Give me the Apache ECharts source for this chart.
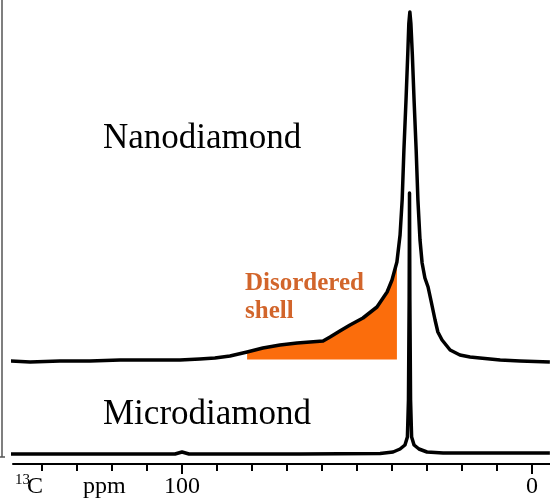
<!DOCTYPE html>
<html>
<head>
<meta charset="utf-8">
<script src="https://cdn.jsdelivr.net/npm/echarts@6/dist/echarts.min.js"></script>
<style>
html,body{margin:0;padding:0;background:#fff;}
#chart{width:550px;height:501px;}
</style>
</head>
<body>
<div id="chart"></div>
<script>
// 13C chemical shift (ppm) and intensity (arbitrary units, Nanodiamond trace offset upward)
const nanoPpm = [149.4,143.4,134.9,126.3,117.7,109.1,100.6,94.9,90.6,86.3,81.4,76.9,72.0,67.1,63.4,59.7,57.7,54.9,52.0,48.3,44.3,41.4,40.0,38.6,37.7,37.1,36.6,36.0,35.5,35.2,34.9,34.6,34.2,33.7,33.1,32.6,32.0,31.4,30.6,29.7,28.9,27.7,26.9,25.7,23.4,20.6,17.7,14.9,9.1,3.4,-5.1];
const nanoInt = [103,102,103,103,104,104,104,105,106,108,112,116,119,121,122,123,127,133,139,146,157,172,184,202,229,264,314,364,410,440,452,440,410,364,314,264,224,201,186,177,164,144,132,124,114,109,107,106,104,103,102];
const microPpm = [149.7,123.4,102.0,100.0,98.0,66.3,43.4,39.7,37.7,36.3,35.6,35.3,35.1,35.0,34.9,34.7,34.4,33.7,32.3,30.0,25.4,-5.1];
const microInt = [10,10,10,12,10,10,10.5,12,15,19,27,64,164,271,164,64,27,19,15,12,11,11];
// Disordered shell region (ppm range) and its baseline intensity
const shellFrom = 81.4;
const shellTo = 38.6;
const shellBase = 104.5;
// Axis ticks and labels (ppm)
const minorTicks = [140,130,120,110,100,90,80,70,60,50,40,30,20,10,0];
const majorTicks = [100,0];
const tickLabels = [100,0];

const nanoData = nanoPpm.map((p,i)=>[p,nanoInt[i]]);
const microData = microPpm.map((p,i)=>[p,microInt[i]]);
const shellData = nanoData.filter(d=>d[0] <= shellFrom + 1e-6 && d[0] >= shellTo - 1e-6);

const serif = "'Liberation Serif','Times New Roman',serif";
const chart = echarts.init(document.getElementById('chart'));
const xMax = 148.29, xMin = -5.14;
chart.setOption({
  animation:false,
  grid:{left:13,right:0,top:0,bottom:37},
  xAxis:[{
    type:'value', inverse:true, min:xMin, max:xMax,
    axisLine:{show:true,lineStyle:{color:'#000',width:2}},
    axisTick:{show:true,length:7,lineStyle:{color:'#000',width:2},customValues:minorTicks},
    axisLabel:{show:true,customValues:tickLabels,margin:11,color:'#000',fontSize:24,fontFamily:serif},
    splitLine:{show:false}
  },{
    type:'value', inverse:true, min:xMin, max:xMax, position:'bottom',
    axisLine:{show:false},
    axisTick:{show:true,length:10,lineStyle:{color:'#000',width:2},customValues:majorTicks},
    axisLabel:{show:false},
    splitLine:{show:false}
  }],
  yAxis:{type:'value',min:0,max:464,show:false},
  series:[
    {type:'line',data:shellData,showSymbol:false,clip:false,z:1,
     lineStyle:{width:0,opacity:0},
     areaStyle:{color:'#fb6d0c',opacity:1,origin:shellBase}},
    {type:'line',data:nanoData,showSymbol:false,clip:false,z:3,
     lineStyle:{color:'#000',width:3.5,join:'round'}},
    {type:'line',data:microData,showSymbol:false,clip:false,z:3,
     lineStyle:{color:'#000',width:3.5,join:'round'}}
  ],
  graphic:[
    {type:'line',shape:{x1:2,y1:0,x2:2,y2:457},style:{stroke:'#555',lineWidth:1.5}},
    {type:'line',shape:{x1:0,y1:457,x2:5,y2:457},style:{stroke:'#555',lineWidth:1.5}},
    {type:'text',x:103,y:139,style:{text:'Nanodiamond',fontSize:35,fontFamily:serif,fill:'#000',align:'left',verticalAlign:'middle'}},
    {type:'text',x:103,y:415,style:{text:'Microdiamond',fontSize:35,fontFamily:serif,fill:'#000',align:'left',verticalAlign:'middle'}},
    {type:'text',x:245,y:284,style:{text:'Disordered',fontSize:25,fontWeight:'bold',fontFamily:serif,fill:'#d2652b',align:'left',verticalAlign:'middle'}},
    {type:'text',x:245,y:312,style:{text:'shell',fontSize:25,fontWeight:'bold',fontFamily:serif,fill:'#d2652b',align:'left',verticalAlign:'middle'}},
    {type:'text',x:15,y:480,style:{text:'13',fontSize:15,fontFamily:serif,fill:'#000',align:'left',verticalAlign:'middle'}},
    {type:'text',x:27,y:487,style:{text:'C',fontSize:24,fontFamily:serif,fill:'#000',align:'left',verticalAlign:'middle'}},
    {type:'text',x:83,y:487,style:{text:'ppm',fontSize:24,fontFamily:serif,fill:'#000',align:'left',verticalAlign:'middle'}}
  ]
});
</script>
</body>
</html>
